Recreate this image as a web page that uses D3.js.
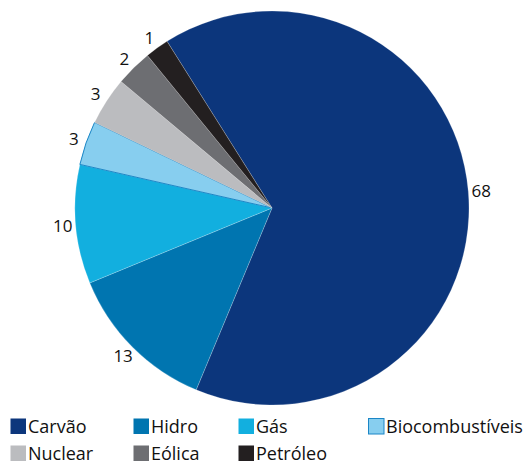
<!DOCTYPE html>
<html>
<head>
<meta charset="utf-8">
<script src="https://cdn.jsdelivr.net/npm/d3@7"></script>
<style>
  body { margin: 0; background: #fff; }
  svg text { font-family: "Open Sans", sans-serif; fill: #111; }
</style>
</head>
<body>
<div id="content"></div>
<script>
let width = 528;
let height = 464;

// Sources, in clockwise order from the top
let categories = ["Carvão", "Hidro", "Gás", "Biocombustíveis", "Nuclear", "Eólica", "Petróleo"];
// Share of each slice as drawn
let shares = [65.2, 12.5, 9.75, 3.6, 3.95, 3.0, 1.95];
// Numbers printed next to the slices
let printed = ["68", "13", "10", "3", "3", "2", "1"];

let colors = d3.scaleOrdinal()
    .domain(categories)
    .range(["#0c367c", "#0075b0", "#12afdf", "#87ceef", "#bbbcbf", "#6d6e72", "#231f20"]);

let cx = 272, cy = 208, radius = 197;

let svg = d3.select("#content")
    .append("svg")
    .attr("width", width)
    .attr("height", height);

let pie = d3.pie()
    .sort(null)
    .value(function(d) { return d.value; })
    .startAngle(-32.2 * Math.PI / 180)
    .endAngle((360 - 32.2) * Math.PI / 180);

let data = categories.map(function(c, i) {
    return {name: c, value: shares[i], label: printed[i]};
});

let arcs = pie(data);

let arc = d3.arc().innerRadius(0).outerRadius(radius);
let labelArc = d3.arc().innerRadius(210).outerRadius(210);

let g = svg.append("g")
    .attr("transform", "translate(" + cx + "," + cy + ")");

g.selectAll(".slice")
    .data(arcs)
    .enter()
    .append("path")
    .attr("class", "slice")
    .attr("d", arc)
    .attr("fill", function(d) { return colors(d.data.name); })
    .attr("stroke", function(d) { return d.data.name === "Biocombustíveis" ? "#1b86c6" : "rgba(255,255,255,0.35)"; })
    .attr("stroke-width", function(d) { return d.data.name === "Biocombustíveis" ? 1 : 0.6; });

g.selectAll(".lbl")
    .data(arcs)
    .enter()
    .append("text")
    .attr("class", "lbl")
    .attr("transform", function(d) { return "translate(" + labelArc.centroid(d) + ")"; })
    .attr("text-anchor", "middle")
    .attr("dy", "0.36em")
    .style("font-size", "17px")
    .text(function(d) { return d.data.label; });

// Legend: two rows
let legendX = [10, 133, 238, 368];
let legendY = [418, 445];

let legend = svg.selectAll(".legend")
    .data(categories)
    .enter()
    .append("g")
    .attr("class", "legend")
    .attr("transform", function(d, i) {
        return "translate(" + legendX[i % 4] + "," + legendY[Math.floor(i / 4)] + ")";
    });

legend.append("rect")
    .attr("x", 0.5)
    .attr("y", 0.5)
    .attr("width", 15.5)
    .attr("height", 15.5)
    .attr("fill", function(d) { return colors(d); })
    .attr("stroke", function(d) { return d === "Biocombustíveis" ? "#1b86c6" : "none"; })
    .attr("stroke-width", 1);

legend.append("text")
    .attr("x", 18)
    .attr("y", 15)
    .style("font-size", "18px")
    .text(function(d) { return d; });
</script>
</body>
</html>
